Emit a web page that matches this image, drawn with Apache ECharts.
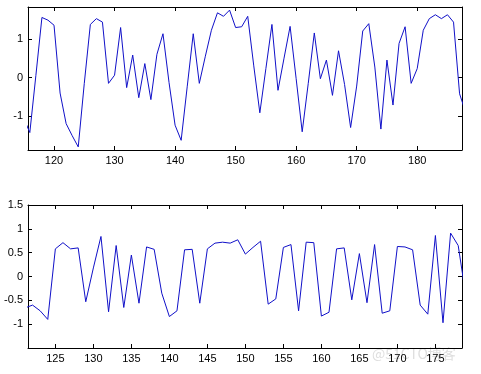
<!DOCTYPE html>
<html>
<head>
<meta charset="utf-8">
<script src="https://cdn.jsdelivr.net/npm/echarts@6.0.0/dist/echarts.min.js"></script>
<style>
  body { margin: 0; background: #fff; }
  #chart { width: 481px; height: 374px; }
</style>
</head>
<body>
<div id="chart"></div>
<script>
// Données du graphique du haut (x de 115 à 188, pas de 1)
const debutHaut = 115;
const valeursHaut = [
    -1.05, -1.42, 0.05, 1.55, 1.48, 1.35, -0.4, -1.19, -1.5, -1.79,
    -0.15, 1.37, 1.52, 1.43, -0.15, 0.06, 1.29, -0.26, 0.58, -0.52,
    0.36, -0.57, 0.6, 1.13, -0.13, -1.23, -1.62, -0.24, 1.13, -0.15,
    0.55, 1.22, 1.67, 1.58, 1.74, 1.29, 1.31, 1.58, 0.3, -0.91,
    0.23, 1.37, -0.33, 0.5, 1.32, -0.03, -1.4, -0.15, 1.15, -0.03,
    0.45, -0.46, 0.69, -0.18, -1.29, -0.22, 1.2, 1.39, 0.27, -1.33,
    0.45, -0.71, 0.88, 1.31, -0.15, 0.23, 1.22, 1.52, 1.62, 1.52,
    1.62, 1.43, -0.42, -0.9
];
const ticksXHaut = [120, 130, 140, 150, 160, 170, 180];
const ticksYHaut = [-1, 0, 1];

// Données du graphique du bas (x de 121 à 179)
const debutBas = 121;
const valeursBas = [
    -0.66, -0.6, -0.72, -0.9, 0.58, 0.71, 0.58, 0.6, -0.53, 0.18,
    0.84, -0.74, 0.65, -0.65, 0.45, -0.56, 0.62, 0.57, -0.35, -0.84,
    -0.72, 0.56, 0.57, -0.56, 0.58, 0.7, 0.72, 0.7, 0.77, 0.47,
    0.61, 0.74, -0.58, -0.47, 0.61, 0.67, -0.72, 0.72, 0.71, -0.83,
    -0.75, 0.58, 0.6, -0.49, 0.48, -0.55, 0.67, -0.77, -0.72, 0.63,
    0.62, 0.56, -0.6, -0.79, 0.86, -0.97, 0.91, 0.65, -0.4
];
const ticksXBas = [125, 130, 135, 140, 145, 150, 155, 160, 165, 170, 175];
const ticksYBas = [-1, -0.5, 0, 0.5, 1, 1.5];

function paires(debut, valeurs) {
    return valeurs.map(function (v, i) { return [debut + i, v]; });
}

// Axe façon MATLAB : cadre noir, graduations vers l'intérieur
function axe(grid, position, min, max, ticks, avecLabels) {
    return {
        type: 'value',
        gridIndex: grid,
        position: position,
        min: min,
        max: max,
        axisLine: { show: true, onZero: false, lineStyle: { color: '#000', width: 1 } },
        axisTick: { show: true, inside: true, length: 4, customValues: ticks, lineStyle: { color: '#000' } },
        axisLabel: {
            show: avecLabels,
            customValues: ticks,
            color: '#000',
            fontSize: 11,
            fontFamily: 'Liberation Sans',
            margin: 5
        },
        splitLine: { show: false }
    };
}

var chartDom = document.getElementById('chart');
var myChart = echarts.init(chartDom);

var option = {
    animation: false,
    backgroundColor: '#fff',
    grid: [
        { left: 28, top: 7, width: 434, height: 143 },
        { left: 28, top: 205, width: 434, height: 143 }
    ],
    xAxis: [
        axe(0, 'bottom', 115.7, 187.4, ticksXHaut, true),
        axe(0, 'top', 115.7, 187.4, ticksXHaut, false),
        axe(1, 'bottom', 121.4, 178.5, ticksXBas, true),
        axe(1, 'top', 121.4, 178.5, ticksXBas, false)
    ],
    yAxis: [
        axe(0, 'left', -1.87, 1.82, ticksYHaut, true),
        axe(0, 'right', -1.87, 1.82, ticksYHaut, false),
        axe(1, 'left', -1.5, 1.5, ticksYBas, true),
        axe(1, 'right', -1.5, 1.5, ticksYBas, false)
    ],
    series: [
        {
            type: 'line',
            xAxisIndex: 0,
            yAxisIndex: 0,
            data: paires(debutHaut, valeursHaut),
            showSymbol: false,
            symbol: 'none',
            lineStyle: { color: '#1010c8', width: 1 }
        },
        {
            type: 'line',
            xAxisIndex: 2,
            yAxisIndex: 2,
            data: paires(debutBas, valeursBas),
            showSymbol: false,
            symbol: 'none',
            lineStyle: { color: '#1010c8', width: 1 }
        }
    ],
    graphic: [
        {
            type: 'text',
            left: 372,
            top: 347,
            style: {
                text: '@51CTO博客',
                fontSize: 14,
                fontFamily: 'Noto Sans CJK SC',
                fill: 'rgba(160,160,160,0.35)'
            }
        }
    ]
};

myChart.setOption(option);
</script>
</body>
</html>
